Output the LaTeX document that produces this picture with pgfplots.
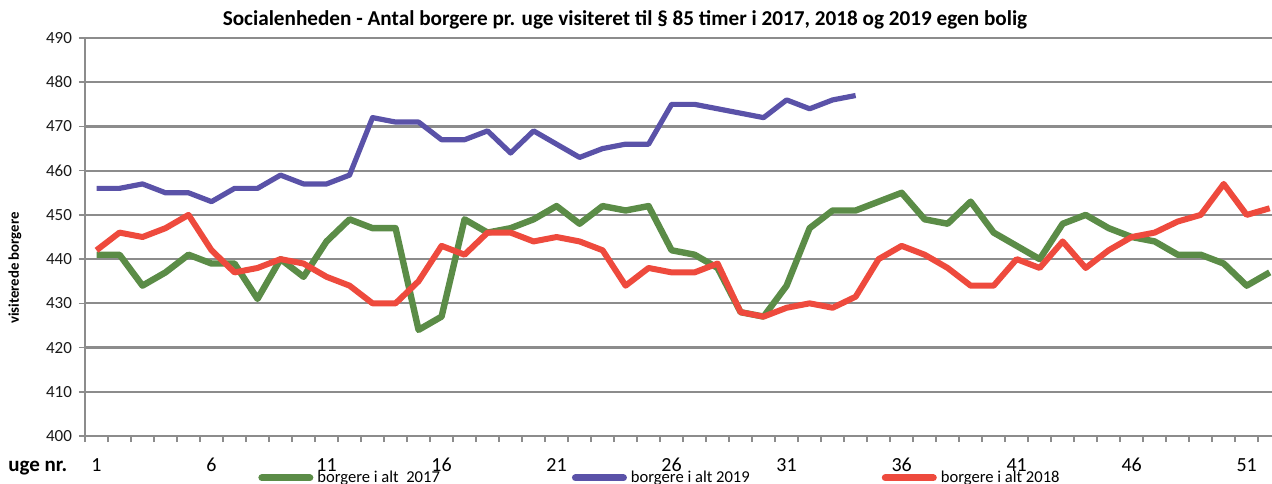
\documentclass[border=0pt]{standalone}
\usepackage{pgfplots}
\pgfplotsset{compat=1.18}
\usepackage{fontspec}
\setmainfont{Carlito}

\definecolor{ggreen}{HTML}{5B8C47}
\definecolor{bblue}{HTML}{5A52A8}
\definecolor{rred}{HTML}{EE4A3D}
\definecolor{ggrid}{HTML}{8C8C8C}

\begin{document}
\begin{tikzpicture}
\begin{axis}[
    name=ax,
    at={(0,0)}, anchor=south west,
    scale only axis,
    width=593.5pt, height=199pt,
    xmin=0.5, xmax=52.1,
    ymin=400, ymax=490,
    axis x line*=bottom, axis y line*=left,
    axis line style={ggrid, line width=1pt},
    ytick={400,410,...,490},
    ymajorgrids,
    grid style={ggrid, line width=1.1pt},
    xtick={0.5,1.5,...,52.5},
    xticklabels={},
    extra x ticks={1,6,11,16,21,26,31,36,41,46,51},
    extra x tick labels={1,6,11,16,21,26,31,36,41,46,51},
    extra x tick style={major tick length=0pt, xticklabel style={font=\fontsize{10}{11}\selectfont, anchor=base, yshift=-17.5pt}},
    tick align=outside,
    major tick length=3pt,
    tick style={ggrid, line width=0.8pt},
    yticklabel style={font=\fontsize{8.5}{9}\selectfont, text=black!90},
    /pgf/number format/assume math mode=true,
    legend columns=3,
    legend style={at={(0.1457,-0.105)}, anchor=west, draw=none, fill=none,
        inner sep=0pt, font=\fontsize{8.3}{9}\selectfont,
        /tikz/every even column/.append style={column sep=64pt}},
    legend image code/.code={\draw[#1, line width=3.5pt, line cap=round] (0pt,0pt) -- (24pt,0pt);},
]

% 2017
\addplot[color=ggreen, line width=3.2pt, line join=round] coordinates {
(1,441) (2,441) (3,434) (4,437) (5,441) (6,439) (7,439) (8,431) (9,440) (10,436)
(11,444) (12,449) (13,447) (14,447) (15,424) (16,427) (17,449) (18,446) (19,447) (20,449)
(21,452) (22,448) (23,452) (24,451) (25,452) (26,442) (27,441) (28,438) (29,428) (30,427)
(31,434) (32,447) (33,451) (34,451) (35,453) (36,455) (37,449) (38,448) (39,453) (40,446)
(41,443) (42,440) (43,448) (44,450) (45,447) (46,445) (47,444) (48,441) (49,441) (50,439)
(51,434) (52,437)
};
\addlegendentry{borgere i alt\ \ 2017}

% 2019
\addplot[color=bblue, line width=2.6pt, line join=round] coordinates {
(1,456) (2,456) (3,457) (4,455) (5,455) (6,453) (7,456) (8,456) (9,459) (10,457)
(11,457) (12,459) (13,472) (14,471) (15,471) (16,467) (17,467) (18,469) (19,464) (20,469)
(21,466) (22,463) (23,465) (24,466) (25,466) (26,475) (27,475) (28,474) (29,473) (30,472)
(31,476) (32,474) (33,476) (34,477)
};
\addlegendentry{borgere i alt 2019}

% 2018
\addplot[color=rred, line width=3pt, line join=round] coordinates {
(1,442) (2,446) (3,445) (4,447) (5,450) (6,442) (7,437) (8,438) (9,440) (10,439)
(11,436) (12,434) (13,430) (14,430) (15,435) (16,443) (17,441) (18,446) (19,446) (20,444)
(21,445) (22,444) (23,442) (24,434) (25,438) (26,437) (27,437) (28,439) (29,428) (30,427)
(31,429) (32,430) (33,429) (34,431.5) (35,440) (36,443) (37,441) (38,438) (39,434) (40,434)
(41,440) (42,438) (43,444) (44,438) (45,442) (46,445) (47,446) (48,448.5) (49,450) (50,457)
(51,450) (52,451.5)
};
\addlegendentry{borgere i alt 2018}
\end{axis}

\node[font=\bfseries\fontsize{10.6}{12}\selectfont, anchor=center] at (270pt,208pt)
    {Socialenheden - Antal borgere pr. uge visiteret til § 85 timer i 2017, 2018 og 2019 egen bolig};
\node[font=\bfseries\fontsize{7.4}{8}\selectfont, rotate=90, anchor=center] at (-35pt,84pt)
    {visiterede borgere};
\node[font=\bfseries\fontsize{10.5}{11}\selectfont, anchor=base west, inner sep=0pt] at (-38.5pt,-17.5pt)
    {uge nr.};

\pgfresetboundingbox
\path[use as bounding box] (-42.5pt,-23.5pt) rectangle (593.5pt,218pt);
\end{tikzpicture}
\end{document}
